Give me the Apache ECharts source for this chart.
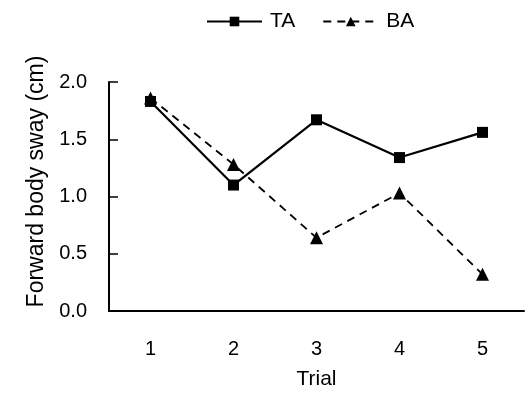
<!DOCTYPE html>
<html><head><meta charset="utf-8">
<script src="https://cdn.jsdelivr.net/npm/echarts@6/dist/echarts.min.js"></script>
<style>html,body{margin:0;padding:0;background:#fff}#c{width:525px;height:395px}</style>
</head><body><div id="c"></div>
<script>
const categories = ['1','2','3','4','5'];
const taValues = [1.83, 1.10, 1.67, 1.34, 1.56];
const baValues = [1.86, 1.28, 0.64, 1.03, 0.32];
const seriesNames = ['TA','BA'];
const font = 'Liberation Sans, Arial, sans-serif';
const chart = echarts.init(document.getElementById('c'));
chart.setOption({
  animation:false,
  backgroundColor:'#fff',
  legend:{
    top:6, left:201, itemWidth:55, itemHeight:12, itemGap:27,
    textStyle:{fontFamily:font,fontSize:21,color:'#000',padding:[0,0,0,3]},
    data:seriesNames
  },
  grid:{left:109,right:1,top:82,bottom:84},
  xAxis:{
    type:'category', data:categories, boundaryGap:true,
    name:'Trial', nameLocation:'middle', nameGap:58,
    nameTextStyle:{fontFamily:font,fontSize:21,color:'#000'},
    axisLine:{lineStyle:{color:'#000',width:2}},
    axisTick:{inside:true,length:5,lineStyle:{color:'#000',width:1.5}},
    axisLabel:{fontFamily:font,fontSize:20,color:'#000',margin:28}
  },
  yAxis:{
    type:'value', min:0, max:2, interval:0.5,
    name:'Forward body sway (cm)', nameLocation:'middle', nameGap:56,
    nameTextStyle:{fontFamily:font,fontSize:23,color:'#000',padding:[0,0,0,30]},
    axisLine:{show:true,lineStyle:{color:'#000',width:2}},
    axisTick:{show:true,inside:true,length:9,lineStyle:{color:'#000',width:1.5}},
    splitLine:{show:false},
    axisLabel:{fontFamily:font,fontSize:20,color:'#000',margin:22,formatter:v=>v.toFixed(1)}
  },
  series:[
    {name:seriesNames[0],type:'line',data:taValues,symbol:'rect',symbolSize:11,
     itemStyle:{color:'#000'},lineStyle:{color:'#000',width:2.2}},
    {name:seriesNames[1],type:'line',data:baValues,symbol:'triangle',symbolSize:13,
     itemStyle:{color:'#000'},lineStyle:{color:'#000',width:1.8,type:[8,6]}}
  ]
});
</script></body></html>
